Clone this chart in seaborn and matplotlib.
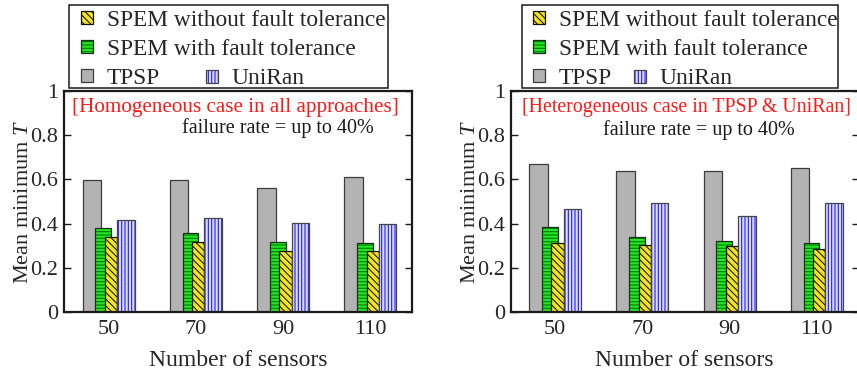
import numpy as np
import pandas as pd
import matplotlib
matplotlib.use("Agg")
import matplotlib.pyplot as plt
import seaborn as sns
from matplotlib.patches import Patch, Rectangle
from matplotlib.legend_handler import HandlerTuple

# ---------------- data ----------------
sensors = ["50", "70", "90", "110"]
ytick_values = [0, 0.2, 0.4, 0.6, 0.8, 1.0]
ytick_labels = ["0", "0.2", "0.4", "0.6", "0.8", "1"]

homo_tpsp = [0.597, 0.597, 0.560, 0.612]
homo_with = [0.379, 0.356, 0.317, 0.311]
homo_without = [0.338, 0.315, 0.276, 0.277]
homo_uniran = [0.416, 0.427, 0.401, 0.397]

het_tpsp = [0.670, 0.637, 0.639, 0.653]
het_with = [0.386, 0.341, 0.320, 0.314]
het_without = [0.314, 0.305, 0.300, 0.284]
het_uniran = [0.466, 0.492, 0.436, 0.492]

label_without = "SPEM without fault tolerance"
label_with = "SPEM with fault tolerance"
label_tpsp = "TPSP"
label_uniran = "UniRan"
panel_titles = ["[Homogeneous case in all approaches]", "[Heterogeneous case in TPSP & UniRan]"]
note = "failure rate = up to 40%"
xlabel = "Number of sensors"
ylabel = "Mean minimum $T$"

# ---------------- style ----------------
sns.set_theme(style="white")
plt.rcParams["font.family"] = ["Liberation Serif", "DejaVu Serif"]
plt.rcParams["mathtext.fontset"] = "custom"
plt.rcParams["mathtext.rm"] = "Liberation Serif"
plt.rcParams["mathtext.it"] = "Liberation Serif:italic"
plt.rcParams["hatch.linewidth"] = 0.8

styles = {
    "tpsp": dict(offset=-0.19, width=0.21, face="#b3b3b3", hatch=None, hcol="#b3b3b3", edge="#3c3c3c"),
    "with": dict(offset=-0.06, width=0.18, face="#22e622", hatch="-----", hcol="#007a00", edge="#1c2e1c"),
    "without": dict(offset=0.03, width=0.14, face="#f4e41c", hatch="\\\\\\\\\\", hcol="#1a1a1a", edge="#111111"),
    "uniran": dict(offset=0.20, width=0.20, face="#dcdcff", hatch="|||||", hcol="#1e1eff", edge="#444444"),
}

fig = plt.figure(figsize=(8.57, 3.76), dpi=100)
ax_l = fig.add_axes([64 / 857, 1 - 312 / 376, 348 / 857, 221 / 376])
ax_r = fig.add_axes([510.5 / 857, 1 - 312 / 376, 348 / 857, 221 / 376])

panels = [
    (ax_l, {"tpsp": homo_tpsp, "with": homo_with, "without": homo_without, "uniran": homo_uniran},
     panel_titles[0], (0.023, 0.968), 15.2, (0.615, 0.833)),
    (ax_r, {"tpsp": het_tpsp, "with": het_with, "without": het_without, "uniran": het_uniran},
     panel_titles[1], (0.033, 0.968), 14.3, (0.542, 0.824)),
]

idx = np.arange(len(sensors))
for ax, data, title, tpos, tsize, npos in panels:
    for key in ["tpsp", "with", "without", "uniran"]:
        st = styles[key]
        df = pd.DataFrame({"pos": idx + st["offset"], "val": data[key]})
        sns.barplot(data=df, x="pos", y="val", native_scale=True, width=st["width"],
                    errorbar=None, facecolor=st["face"], edgecolor=st["hcol"],
                    hatch=st["hatch"], linewidth=0, ax=ax)
        sns.barplot(data=df, x="pos", y="val", native_scale=True, width=st["width"],
                    errorbar=None, facecolor="none", edgecolor=st["edge"],
                    linewidth=0.9, ax=ax)
    ax.set_xlim(-0.51, 3.48)
    ax.set_ylim(0, 1)
    ax.set_xticks(idx)
    ax.set_xticklabels(sensors, fontsize=16)
    ax.set_yticks(ytick_values)
    ax.set_yticklabels(ytick_labels, fontsize=16)
    ax.tick_params(axis="y", direction="in", length=5, width=1.0, left=True, right=True, color="k", pad=4)
    ax.tick_params(axis="x", length=0, pad=6)
    for sp in ax.spines.values():
        sp.set_visible(True)
        sp.set_color("k")
        sp.set_linewidth(1.6)
    ax.set_xlabel(xlabel, fontsize=17, labelpad=8)
    ax.set_ylabel(ylabel, fontsize=16, labelpad=-2)
    ax.text(tpos[0], tpos[1], title, transform=ax.transAxes, color="#ff1a1a",
            fontsize=tsize, ha="left", va="top")
    ax.text(npos[0], npos[1], note, transform=ax.transAxes, color="k",
            fontsize=14.5, ha="center", va="center")


def handle(key):
    st = styles[key]
    return (Patch(facecolor=st["face"], edgecolor=st["hcol"], hatch=st["hatch"], linewidth=0),
            Patch(facecolor="none", edgecolor=st["edge"], linewidth=0.9))


legend_kw = dict(frameon=False, borderpad=0, borderaxespad=0, handlelength=0.5, handleheight=0.5,
                 handletextpad=0.6, labelspacing=0.34, fontsize=16.8,
                 handler_map={tuple: HandlerTuple(ndivide=1)})

for box, hx, ux in [((69, 5, 388, 88), 81, 206), ((522, 5, 838, 88), 533, 634)]:
    x0, y0, x1, y1 = box
    fig.patches.append(Rectangle((x0 / 857, 1 - y1 / 376), (x1 - x0) / 857, (y1 - y0) / 376,
                                 transform=fig.transFigure, fill=False, edgecolor="k", linewidth=1.1))
    fig.legend([handle("without"), handle("with"), handle("tpsp")],
               [label_without, label_with, label_tpsp],
               loc="upper left", bbox_to_anchor=(hx / 857, 1 - 10 / 376), **legend_kw)
    fig.legend([handle("uniran")], [label_uniran],
               loc="center left", bbox_to_anchor=(ux / 857, 1 - 79 / 376), **legend_kw)

fig.savefig("out.png", dpi=100)
